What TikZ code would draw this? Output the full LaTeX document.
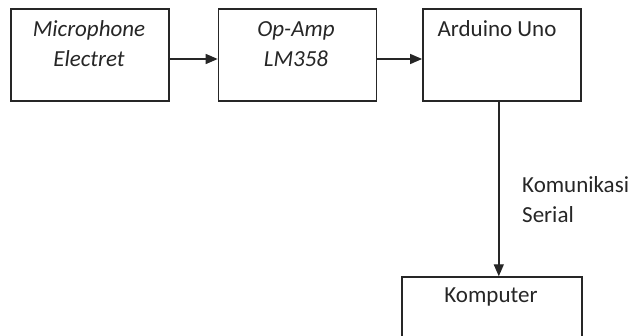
\documentclass[tikz,border=0pt]{standalone}
\usepackage{fontspec}
\setmainfont{Carlito}
\usetikzlibrary{arrows.meta,positioning}

\begin{document}
\begin{tikzpicture}[x=1pt,y=-1pt,
  blok/.style={draw=black!85,line width=1.4pt,minimum width=158pt,minimum height=92pt,inner sep=0pt},
  teks/.style={font=\fontsize{23}{30}\selectfont,text=black!85,align=center,inner sep=0pt,anchor=base},
  miring/.style={teks,font=\fontsize{23}{30}\selectfont\itshape},
  panah/.style={draw=black!85,line width=1.4pt,-{Triangle[length=12pt,width=10pt]}}]
  \useasboundingbox (0,0) rectangle (632,336);
  \clip (0,0) rectangle (632,336);
  % blok
  \node[blok] (mic) at (90,55) {};
  \node[blok,right=48pt of mic] (opamp) {};
  \node[blok,right=45pt of opamp] (arduino) {};
  \node[blok,minimum width=180pt] (komputer) at (492,323) {};
  % teks blok (base = baris terakhir)
  \node[miring] (micT) at (89,67) {Microphone\\Electret};
  \node[miring] (opampT) at (296,67) {Op-Amp\\LM358};
  \node[teks] (arduinoT) at (497,37) {Arduino Uno};
  \node[teks] (komputerT) at (491,303) {Komputer};
  % panah
  \draw[panah] ([yshift=-4pt]mic.east) -- ([yshift=-4pt]opamp.west);
  \draw[panah] ([yshift=-4pt]opamp.east) -- ([yshift=-4pt]arduino.west);
  \draw[panah] ([xshift=-3pt]arduino.south) -- ([xshift=-3pt]arduino.south |- komputer.north);
  \node[teks,align=left,anchor=base west] (serialT) at (522,223) {Komunikasi\\Serial};
\end{tikzpicture}
\end{document}
